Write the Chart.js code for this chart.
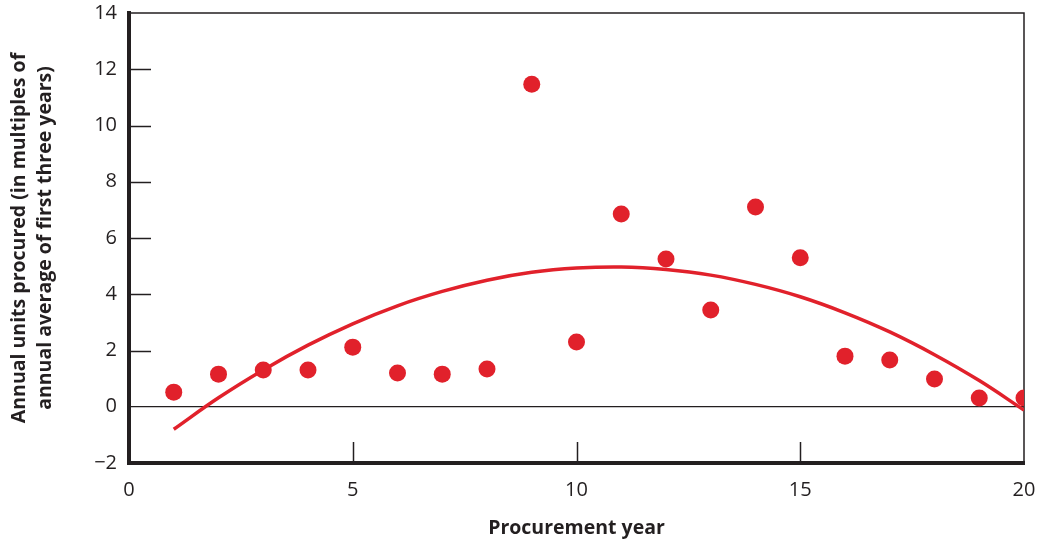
<!DOCTYPE html>
<html>
<head>
<meta charset="utf-8">
<script src="https://cdn.jsdelivr.net/npm/chart.js@4"></script>
<style>
  html, body { margin: 0; padding: 0; background: #fff; }
  #wrap { width: 1044px; height: 546px; }
</style>
</head>
<body>
<div id="wrap"><canvas id="chart"></canvas></div>
<script>
// Données
const years = [1, 2, 3, 4, 5, 6, 7, 8, 9, 10, 11, 12, 13, 14, 15, 16, 17, 18, 19, 20];
const unitsProcured = [0.52, 1.16, 1.31, 1.31, 2.12, 1.2, 1.16, 1.34, 11.47, 2.3,
  6.85, 5.25, 3.44, 7.1, 5.3, 1.8, 1.66, 0.99, 0.31, 0.31];
const trendValues = [-0.8, 0.32, 1.31, 2.19, 2.95, 3.59, 4.1, 4.5, 4.78, 4.93,
  4.97, 4.88, 4.68, 4.35, 3.91, 3.34, 2.66, 1.85, 0.93, -0.12];
const xTicks = [0, 5, 10, 15, 20];
const yTicks = [-2, 0, 2, 4, 6, 8, 10, 12, 14];

const RED = "#e1212b";
const INK = "#231f20";
const FONT = "'Open Sans', 'Noto Sans', sans-serif";

// petits traits de graduation vers l'intérieur + cadre haut/droite
const frameAndTicks = {
  id: "frameAndTicks",
  beforeDatasetsDraw(chart) {
    const { ctx, chartArea: a, scales } = chart;
    ctx.save();
    ctx.strokeStyle = INK;
    ctx.lineWidth = 1.5;
    ctx.beginPath();
    ctx.moveTo(a.left, a.top);
    ctx.lineTo(a.right, a.top);
    ctx.lineTo(a.right, a.bottom);
    ctx.stroke();

    yTicks.forEach((v) => {
      if (v === -2 || v === 0 || v === 14) return;
      const y = Math.round(scales.y.getPixelForValue(v)) + 0.5;
      ctx.beginPath();
      ctx.moveTo(a.left, y);
      ctx.lineTo(a.left + 22, y);
      ctx.stroke();
    });
    xTicks.forEach((v) => {
      if (v === 0 || v === 20) return;
      const x = Math.round(scales.x.getPixelForValue(v)) + 0.5;
      ctx.beginPath();
      ctx.moveTo(x, a.bottom);
      ctx.lineTo(x, a.bottom - 21);
      ctx.stroke();
    });
    ctx.restore();
  },
};

// on enlève le débordement des étiquettes pour garder la zone du graphique fixe
function noOverflow(scale) {
  scale.paddingTop = 0;
  scale.paddingBottom = 0;
  scale.paddingLeft = 0;
  scale.paddingRight = 0;
}

function init() {
  const ctx = document.getElementById("chart").getContext("2d");

  new Chart(ctx, {
    type: "scatter",
    data: {
      datasets: [
        {
          label: "Tendance",
          type: "line",
          data: years.map((x, i) => ({ x: x, y: trendValues[i] })),
          borderColor: RED,
          borderWidth: 3.5,
          pointRadius: 0,
          tension: 0.4,
          fill: false,
          order: 2,
        },
        {
          label: "Unités",
          data: years.map((x, i) => ({ x: x, y: unitsProcured[i] })),
          backgroundColor: RED,
          borderWidth: 0,
          pointRadius: 8.5,
          order: 1,
        },
      ],
    },
    options: {
      responsive: true,
      maintainAspectRatio: false,
      animation: false,
      layout: { padding: { left: 0, right: 20, top: 13, bottom: 0 } },
      plugins: {
        legend: { display: false },
        tooltip: { enabled: false },
      },
      scales: {
        x: {
          type: "linear",
          min: 0,
          max: 20,
          afterFit: (scale) => { scale.height = 83; noOverflow(scale); },
          afterBuildTicks: (scale) => { scale.ticks = xTicks.map((v) => ({ value: v })); },
          grid: { display: false, drawTicks: false },
          border: { display: true, color: INK, width: 4 },
          ticks: {
            padding: 15,
            color: INK,
            font: { family: FONT, size: 20 },
          },
          title: {
            display: true,
            text: "Procurement year",
            color: INK,
            font: { family: FONT, size: 19.5, weight: "bold", lineHeight: 1.2 },
            padding: { top: 0, bottom: 6 },
          },
        },
        y: {
          min: -2,
          max: 14,
          afterFit: (scale) => { scale.width = 129; noOverflow(scale); },
          afterBuildTicks: (scale) => { scale.ticks = yTicks.map((v) => ({ value: v })); },
          grid: {
            drawTicks: false,
            color: (c) => (c.tick && c.tick.value === 0 ? INK : "rgba(0,0,0,0)"),
            lineWidth: 1.2,
          },
          border: { display: true, color: INK, width: 4 },
          ticks: {
            padding: 12,
            color: INK,
            font: { family: FONT, size: 20 },
            callback: (v) => (v < 0 ? "\u2212" + Math.abs(v) : v),
          },
          title: {
            display: true,
            text: ["Annual units procured (in multiples of", "annual average of first three years)"],
            color: INK,
            font: { family: FONT, size: 19.5, weight: "bold", lineHeight: 1.3 },
            padding: { top: 7, bottom: 0 },
          },
        },
      },
    },
    plugins: [frameAndTicks],
  });
}

document.addEventListener("DOMContentLoaded", init);
</script>
</body>
</html>
